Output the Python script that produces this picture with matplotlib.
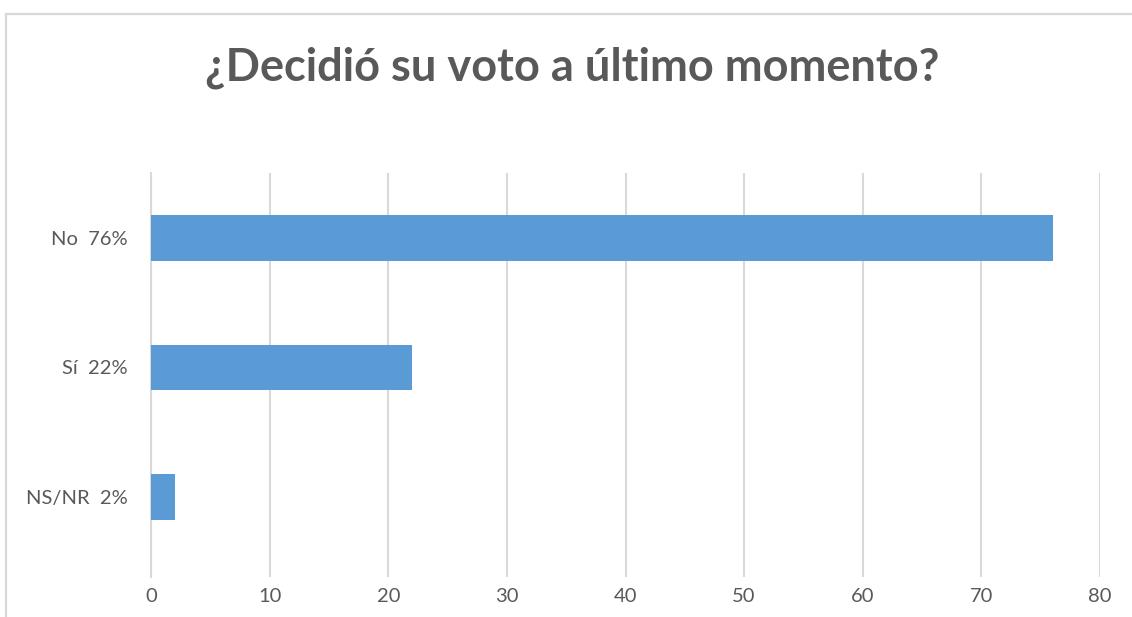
import matplotlib.pyplot as plt
from matplotlib.patches import Rectangle

categories = ['NS/NR  2%', 'Sí  22%', 'No  76%']
values = [2, 22, 76]
x_ticks = [0, 10, 20, 30, 40, 50, 60, 70, 80]

bar_color = '#5B9BD5'
grid_color = '#D9D9D9'
text_color = '#595959'

plt.rcParams['font.family'] = ['Lato', 'DejaVu Sans']

fig = plt.figure(figsize=(11.32, 6.17), dpi=100)
ax = fig.add_axes([151 / 1132, 1 - 577 / 617, (1100 - 151) / 1132, (577 - 173) / 617])

pos = list(range(len(categories)))
ax.barh(pos, values, height=0.35, color=bar_color, zorder=3)

ax.set_xlim(0, 80)
ax.set_ylim(-0.618, 2.502)
ax.set_xticks(x_ticks)
ax.set_yticks(pos)
ax.set_yticklabels(categories)
ax.xaxis.grid(True, color=grid_color, linewidth=1.5, zorder=0)
ax.tick_params(axis='both', length=0, labelsize=14.5, labelcolor=text_color)
ax.tick_params(axis='y', pad=17)
ax.tick_params(axis='x', pad=8)
for s in ['top', 'right', 'bottom']:
    ax.spines[s].set_visible(False)
ax.spines['left'].set_color(grid_color)
ax.spines['left'].set_linewidth(1.5)

fig.text(572 / 1132, 1 - 68 / 617, '¿Decidió su voto a último momento?',
         ha='center', va='center', fontsize=32.5, fontweight='bold', color=text_color)

# chart border (only top and left visible in the crop)
fig.add_artist(Rectangle((6 / 1132, -0.1), 1.2, 1 - 14 / 617 + 0.1,
                         transform=fig.transFigure, fill=False,
                         edgecolor=grid_color, linewidth=1.6))

fig.savefig('out.png', dpi=100)
